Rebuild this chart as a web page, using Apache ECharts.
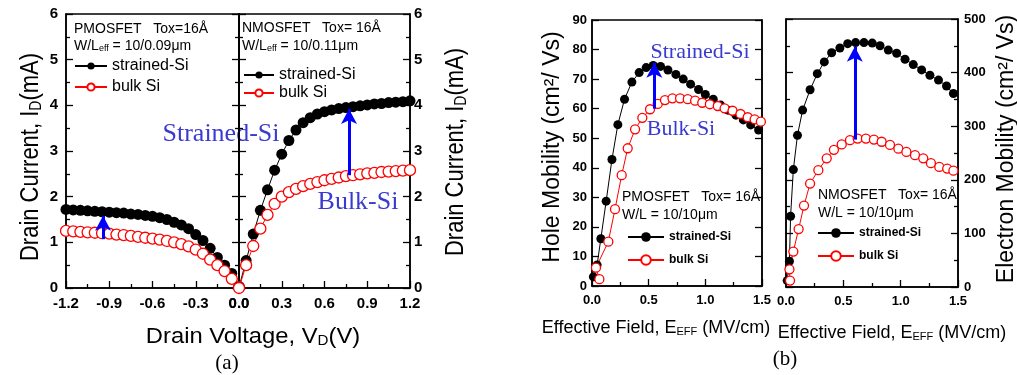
<!DOCTYPE html>
<html>
<head>
<meta charset="utf-8">
<script src="https://cdn.jsdelivr.net/npm/echarts@6/dist/echarts.min.js"></script>
<style>
  html, body { margin: 0; padding: 0; background: #fff; }
  #chart { width: 1017px; height: 375px; }
</style>
</head>
<body>
<div id="chart"></div>
<script>
// (a) drain current vs drain voltage
const vdPmos = [-1.2, -1.15, -1.1, -1.05, -1.0, -0.95, -0.9, -0.85, -0.8, -0.75, -0.7, -0.65, -0.6,
  -0.55, -0.5, -0.45, -0.4, -0.35, -0.3, -0.25, -0.2, -0.15, -0.1, -0.05, 0];
const idPmosStrained = [1.72, 1.71, 1.70, 1.69, 1.68, 1.67, 1.66, 1.65, 1.64, 1.62, 1.61, 1.59, 1.57,
  1.54, 1.50, 1.44, 1.38, 1.30, 1.17, 1.04, 0.87, 0.67, 0.50, 0.32, 0.03];
const idPmosBulk = [1.25, 1.24, 1.23, 1.22, 1.21, 1.20, 1.19, 1.17, 1.16, 1.14, 1.12, 1.10, 1.08,
  1.06, 1.03, 1.00, 0.96, 0.91, 0.84, 0.75, 0.62, 0.50, 0.37, 0.20, 0.02];

const vdNmos = [0, 0.05, 0.1, 0.15, 0.2, 0.25, 0.3, 0.35, 0.4, 0.45, 0.5, 0.55, 0.6,
  0.65, 0.7, 0.75, 0.8, 0.85, 0.9, 0.95, 1.0, 1.05, 1.1, 1.15, 1.2];
const idNmosStrained = [0.02, 0.60, 1.18, 1.70, 2.15, 2.58, 2.93, 3.23, 3.46, 3.62, 3.73, 3.81, 3.86,
  3.90, 3.93, 3.95, 3.97, 3.99, 4.01, 4.03, 4.04, 4.06, 4.07, 4.08, 4.10];
const idNmosBulk = [0.0, 0.50, 0.92, 1.30, 1.60, 1.84, 2.00, 2.10, 2.17, 2.23, 2.28, 2.32, 2.36,
  2.39, 2.42, 2.45, 2.47, 2.49, 2.51, 2.52, 2.54, 2.55, 2.56, 2.57, 2.58];

// (b) mobility vs effective field (each point has its own field value)
const holeStrE = [0.012, 0.045, 0.078, 0.125, 0.176, 0.228, 0.287, 0.352, 0.416, 0.478, 0.54, 0.605,
  0.67, 0.74, 0.805, 0.87, 0.94, 1.0, 1.07, 1.135, 1.2, 1.27, 1.335, 1.4, 1.47];
const holeStrMu = [3.1, 7.1, 16, 28.7, 42.8, 54.6, 63.2, 69, 72.2, 73.9, 74.6, 74.3,
  73.1, 71.6, 70, 68.3, 66.5, 64.8, 63.2, 61.2, 59.5, 57.8, 56.2, 54.5, 52.8];
const holeBulkE = [0.065, 0.035, 0.144, 0.203, 0.262, 0.315, 0.38, 0.444, 0.512, 0.58, 0.644, 0.71,
  0.777, 0.845, 0.91, 0.973, 1.04, 1.11, 1.17, 1.24, 1.31, 1.374, 1.435, 1.49];
const holeBulkMu = [2.3, 6.2, 15, 26, 37.5, 46.6, 53, 56.9, 59.8, 61.6, 62.9, 63.5,
  63.5, 63.2, 62.7, 62, 61.5, 60.9, 60.1, 59.3, 58.2, 57.1, 56.4, 55.6];

const elecStrE = [0.01, 0.03, 0.04, 0.064, 0.1, 0.145, 0.21, 0.273, 0.334, 0.398, 0.47, 0.538, 0.607,
  0.68, 0.752, 0.82, 0.892, 0.965, 1.038, 1.11, 1.183, 1.255, 1.33, 1.4, 1.46];
const elecStrMu = [12, 48, 132, 219, 283, 330, 368, 398, 420, 437, 446, 454, 456,
  456, 455, 450, 442, 436, 425, 415, 405, 395, 386, 375, 361];
const elecBulkE = [0.035, 0.03, 0.064, 0.11, 0.157, 0.21, 0.282, 0.355, 0.418, 0.486, 0.558, 0.625,
  0.697, 0.767, 0.834, 0.907, 0.98, 1.05, 1.125, 1.197, 1.264, 1.337, 1.406, 1.46];
const elecBulkMu = [12, 33, 66, 108, 152, 193, 218, 240, 256, 266, 274, 277,
  277, 275, 271, 265, 258, 252, 246, 240, 231, 224, 221, 217];

// arrows: [x, yFrom, yTo]
const arrowPmos = [-0.943, 1.07, 1.58];
const arrowNmos = [0.772, 2.47, 3.92];
const arrowHole = [0.55, 60, 75.5];
const arrowElec = [0.6, 275, 448];

const sans = 'Liberation Sans';
const serif = 'Liberation Serif';
const red = '#ff0000';
const arrowBlue = '#0000ff';
const textBlue = '#3a3ad0';

const pairs = (xs, ys) => xs.map((x, i) => [x, ys[i]]);

function xAxisCfg(gridIndex, min, max, interval, fontSize, margin) {
  return {
    type: 'value', gridIndex, min, max, interval,
    axisLine: { onZero: false, lineStyle: { color: '#000', width: 1.5 } },
    axisTick: { inside: true, length: 7, lineStyle: { color: '#000', width: 1.3 } },
    minorTick: { show: true, splitNumber: 2, length: 4, lineStyle: { color: '#000', width: 1.3 } },
    splitLine: { show: false },
    axisLabel: {
      color: '#000', fontFamily: sans, fontWeight: 'bold', fontSize, margin,
      formatter: (v) => (Math.abs(v) < 1e-9 ? '0.0' : v.toFixed(1))
    }
  };
}

function yAxisCfg(gridIndex, position, max, interval, minorSplit, showLabel, fontSize, margin) {
  return {
    type: 'value', gridIndex, position, min: 0, max, interval,
    axisLine: { show: true, onZero: false, lineStyle: { color: '#000', width: 1.5 } },
    axisTick: { show: true, inside: true, length: 7, lineStyle: { color: '#000', width: 1.3 } },
    minorTick: { show: minorSplit > 0, splitNumber: minorSplit || 2, length: 4, lineStyle: { color: '#000', width: 1.3 } },
    splitLine: { show: false },
    axisLabel: { show: showLabel, color: '#000', fontFamily: sans, fontWeight: 'bold', fontSize, margin }
  };
}

function arrow(a) {
  return {
    silent: true,
    symbol: ['none', 'arrow'],
    symbolSize: [12, 15],
    label: { show: false },
    lineStyle: { color: arrowBlue, width: 3, type: 'solid' },
    data: [[{ coord: [a[0], a[1]] }, { coord: [a[0], a[2]] }]]
  };
}

function strained(x, y, data, size, markLine) {
  return {
    name: 'strained-Si', type: 'line', xAxisIndex: x, yAxisIndex: y, data,
    symbol: 'circle', symbolSize: size, showSymbol: true,
    itemStyle: { color: '#000' },
    lineStyle: { color: '#000', width: 1 },
    markLine
  };
}

function bulk(x, y, data, size, markLine) {
  return {
    name: 'bulk Si', type: 'line', xAxisIndex: x, yAxisIndex: y, data,
    symbol: 'circle', symbolSize: size, showSymbol: true,
    itemStyle: { color: '#fff', borderColor: red, borderWidth: 1.3 },
    lineStyle: { color: red, width: 1 },
    markLine
  };
}

function legendCfg(left, top, itemWidth, itemHeight, itemGap, fontSize, fontWeight) {
  return {
    left, top, orient: 'vertical', padding: 0, itemWidth, itemHeight, itemGap,
    selectedMode: false,
    data: ['strained-Si', 'bulk Si'],
    textStyle: { color: '#000', fontFamily: sans, fontSize, fontWeight }
  };
}

function label(x, y, text, rich, extra) {
  return Object.assign({
    type: 'text', x, y, silent: true,
    style: {
      text, rich, fill: '#000',
      align: 'left', verticalAlign: 'middle', textAlign: 'left', textVerticalAlign: 'middle'
    }
  }, extra || {});
}

function centered(x, y, text, rich, extra) {
  const el = label(x, y, text, rich, extra);
  el.style.align = el.style.textAlign = 'center';
  return el;
}

function tok(family, size, lineHeight, fill) {
  return { fontFamily: family, fontSize: size, lineHeight, verticalAlign: 'bottom', fill, color: fill };
}

const richA = { n: tok(sans, 22, 34, '#000'), s: tok(sans, 14, 14, '#000') };
const richB = { n: tok(sans, 23, 28, '#000'), s: tok(sans, 11, 11, '#000') };
const richX = { n: tok(sans, 18, 28, '#000'), s: tok(sans, 11, 11, '#000') };
const richInfo = { n: tok(sans, 14, 21, '#000'), s: tok(sans, 9, 9, '#000') };
const richBlueA = { n: tok(serif, 26, 30, textBlue) };
const richBlueB = { n: tok(serif, 22, 26, textBlue) };
const richCap = { n: tok(serif, 21, 24, '#000') };

const gridBox = { show: true, borderColor: '#000', borderWidth: 1.5, backgroundColor: 'transparent' };

const option = {
  animation: false,
  backgroundColor: '#fff',
  grid: [
    Object.assign({ left: 66, top: 14, width: 173, height: 274 }, gridBox),
    Object.assign({ left: 239, top: 14, width: 171, height: 274 }, gridBox),
    Object.assign({ left: 592, top: 20, width: 170, height: 266 }, gridBox),
    Object.assign({ left: 786, top: 19, width: 172, height: 268 }, gridBox)
  ],
  xAxis: [
    xAxisCfg(0, -1.2, 0, 0.3, 15, 8),
    xAxisCfg(1, 0, 1.2, 0.3, 15, 8),
    xAxisCfg(2, 0, 1.5, 0.5, 13, 8),
    xAxisCfg(3, 0, 1.5, 0.5, 13, 8)
  ],
  yAxis: [
    yAxisCfg(0, 'left', 6, 1, 2, true, 15, 8),
    yAxisCfg(0, 'right', 6, 1, 2, false, 15, 4),
    yAxisCfg(1, 'left', 6, 1, 2, false, 15, 4),
    yAxisCfg(1, 'right', 6, 1, 2, true, 15, 4),
    yAxisCfg(2, 'left', 90, 10, 0, true, 13, 5),
    yAxisCfg(2, 'right', 90, 10, 0, false, 13, 5),
    yAxisCfg(3, 'left', 500, 100, 2, false, 13, 5),
    yAxisCfg(3, 'right', 500, 100, 2, true, 13, 6)
  ],
  legend: [
    legendCfg(74, 58, 32, 9, 5, 16, 'normal'),
    legendCfg(243, 67, 30, 9, 2, 16, 'normal'),
    legendCfg(627, 231, 36, 12, 11, 12, 'bold'),
    legendCfg(817, 227, 36, 12, 11, 12, 'bold')
  ],
  series: [
    strained(0, 0, pairs(vdPmos, idPmosStrained), 11, arrow(arrowPmos)),
    bulk(0, 0, pairs(vdPmos, idPmosBulk), 11),
    strained(1, 3, pairs(vdNmos, idNmosStrained), 11),
    bulk(1, 3, pairs(vdNmos, idNmosBulk), 11, arrow(arrowNmos)),
    strained(2, 4, pairs(holeStrE, holeStrMu), 9),
    bulk(2, 4, pairs(holeBulkE, holeBulkMu), 9, arrow(arrowHole)),
    strained(3, 7, pairs(elecStrE, elecStrMu), 9),
    bulk(3, 7, pairs(elecBulkE, elecBulkMu), 9, arrow(arrowElec))
  ],
  graphic: [
    // axis titles
    centered(24, 157, '{n|Drain Current, I}{s|D}{n|(mA)}', richA, { rotation: Math.PI / 2, scaleY: 1.2 }),
    centered(449, 152, '{n|Drain Current, I}{s|D}{n|(mA)}', richA, { rotation: Math.PI / 2, scaleY: 1.2 }),
    centered(253, 331, '{n|Drain Voltage, V}{s|D}{n|(V)}', richA, { scaleX: 1.08 }),
    centered(550, 147, '{n|Hole Mobility (cm²/ Vs)}', richB, { rotation: Math.PI / 2 }),
    centered(1004, 149, '{n|Electron Mobility (cm²/ Vs)}', richB, { rotation: Math.PI / 2 }),
    centered(656, 323, '{n|Effective Field, E}{s|EFF}{n| (MV/cm)}', richX),
    centered(892, 328, '{n|Effective Field, E}{s|EFF}{n| (MV/cm)}', richX),
    centered(227, 362, '{n|(a)}', richCap),
    centered(785, 358, '{n|(b)}', richCap),
    // device info
    label(74, 26, '{n|PMOSFET   Tox=16Å}', richInfo),
    label(74, 43, '{n|W/L}{s|eff}{n| = 10/0.09μm}', richInfo),
    label(242, 25, '{n|NMOSFET   Tox= 16Å}', richInfo),
    label(242, 43, '{n|W/L}{s|eff}{n| = 10/0.11μm}', richInfo),
    label(622, 194, '{n|PMOSFET   Tox= 16Å}', richInfo),
    label(622, 212, '{n|W/L = 10/10μm}', richInfo),
    label(818, 192, '{n|NMOSFET   Tox= 16Å}', richInfo),
    label(818, 210, '{n|W/L = 10/10μm}', richInfo),
    // annotations
    centered(221, 132, '{n|Strained-Si}', richBlueA),
    centered(358, 200, '{n|Bulk-Si}', richBlueA),
    centered(700, 50, '{n|Strained-Si}', richBlueB),
    centered(681, 127, '{n|Bulk-Si}', richBlueB)
  ]
};

const chart = echarts.init(document.getElementById('chart'));
chart.setOption(option);
</script>
</body>
</html>
